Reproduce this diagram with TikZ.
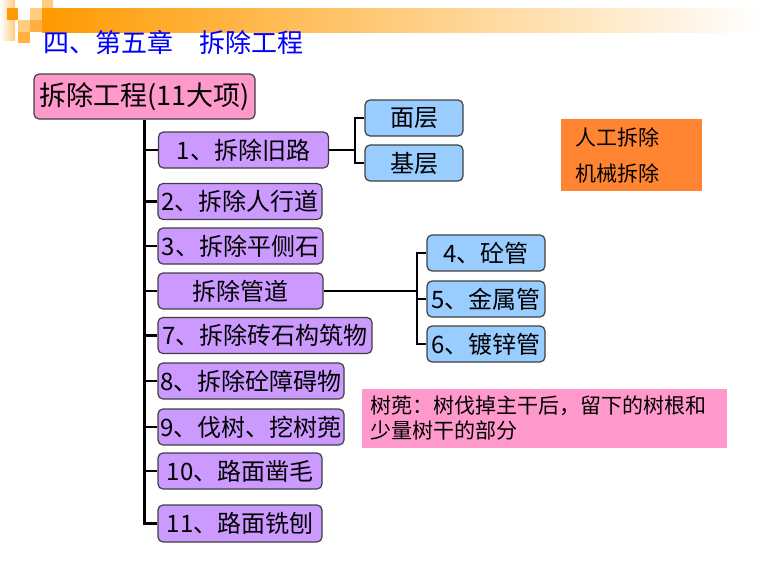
\documentclass[tikz,border=0pt]{standalone}
\usepackage{fontspec}
\setmainfont{Noto Sans CJK SC}
\definecolor{purp}{HTML}{CC99FF}
\definecolor{lblue}{HTML}{99CCFF}
\definecolor{pinkb}{HTML}{FF99CC}
\definecolor{orng}{HTML}{FF8533}
\definecolor{bord}{HTML}{404040}
\definecolor{hdr}{HTML}{FF9A00}
\definecolor{hdrl}{HTML}{FFCC80}
\definecolor{hdrm}{HTML}{FFB040}
\definecolor{ttl}{HTML}{0000FF}
\begin{document}
\begin{tikzpicture}[x=1pt,y=-1pt,
  box/.style={draw=bord, line width=1.2pt, rounded corners=5pt, inner sep=0pt, font=\fontsize{24}{28}\selectfont},
  pbox/.style={box, fill=purp, minimum height=36pt},
  bbox/.style={box, fill=lblue, minimum height=36pt},
  conn/.style={line width=2.5pt, black}]
\useasboundingbox (0,0) rectangle (760,571);
% header decoration
\shade[left color=hdr, right color=white] (42,8) rectangle (760,32);
\shade[left color=white, right color=hdrl] (0,0) rectangle (15,40);
\fill[hdr] (7,8) rectangle (18,20);
\fill[hdrl] (18,20) rectangle (30,32);
\fill[hdrm] (18,32) rectangle (30,43);
\fill[hdrl] (30,8) rectangle (42,20);
\fill[hdrm] (30,20) rectangle (42,32);
\fill[hdrl] (42,0) rectangle (53,8);
% title
\node[anchor=west, inner sep=0pt, text=ttl, font=\fontsize{26}{28}\selectfont] (title) at (43,42) {四、第五章　拆除工程};
% main
\node[box, fill=pinkb, minimum width=221pt, minimum height=45pt, font=\fontsize{27}{30}\selectfont] (main) at (144.5,96.5) {拆除工程(11大项)};
% purple boxes
\node[pbox, minimum width=170pt] (p1) at (243.5,150) {1、拆除旧路};
\node[pbox, minimum width=164pt] (p2) at (240,201.5) {2、拆除人行道};
\node[pbox, minimum width=165pt] (p3) at (240.5,246) {3、拆除平侧石};
\node[pbox, minimum width=165pt] (pg) at (240.5,291) {拆除管道};
\node[pbox, minimum width=214pt] (p7) at (265,335.5) {7、拆除砖石构筑物};
\node[pbox, minimum width=186pt] (p8) at (251,381) {8、拆除砼障碍物};
\node[pbox, minimum width=186pt] (p9) at (251,427) {9、伐树、挖树蔸};
\node[pbox, minimum width=164pt] (p10) at (240,471) {10、路面凿毛};
\node[pbox, minimum width=164pt, minimum height=37pt] (p11) at (240,523.5) {11、路面铣刨};
% blue boxes
\node[bbox, minimum width=98pt] (b1) at (414,118) {面层};
\node[bbox, minimum width=98pt] (b2) at (414,163) {基层};
\node[bbox, minimum width=118pt] (b4) at (486,253) {4、砼管};
\node[bbox, minimum width=118pt] (b5) at (486,299) {5、金属管};
\node[bbox, minimum width=118pt] (b6) at (486,344) {6、镀锌管};
% orange box
\node[fill=orng, inner xsep=14pt, inner ysep=0pt, text width=113pt, minimum height=72pt, align=left,
  font=\fontsize{21}{36}\selectfont] (om) at (631.5,155) {人工拆除\\机械拆除};
% note
\node[fill=pinkb, inner xsep=8pt, inner ysep=0pt, text width=349pt, minimum height=59pt, align=left,
  font=\fontsize{21}{25}\selectfont] (note) at (544.5,418.5) {树蔸：树伐掉主干后，留下的树根和\\少量树干的部分};
% connectors
\coordinate (j1) at (355,150);
\coordinate (j2) at (417,291);
\draw[conn] (main.south) |- (p11.west);
\foreach \n in {p1,p2,p3,pg,p7,p8,p9,p10} \draw[conn] (main.south |- \n.west) -- (\n.west);
\draw[conn] (p1.east) -- (j1);
\draw[conn] (b1.west) -- (b1.west -| j1) -- (b2.west -| j1) -- (b2.west);
\draw[conn] (pg.east) -- (j2);
\draw[conn] (b4.west) -- (b4.west -| j2) -- (b6.west -| j2) -- (b6.west);
\draw[conn] (b5.west -| j2) -- (b5.west);
\end{tikzpicture}
\end{document}
